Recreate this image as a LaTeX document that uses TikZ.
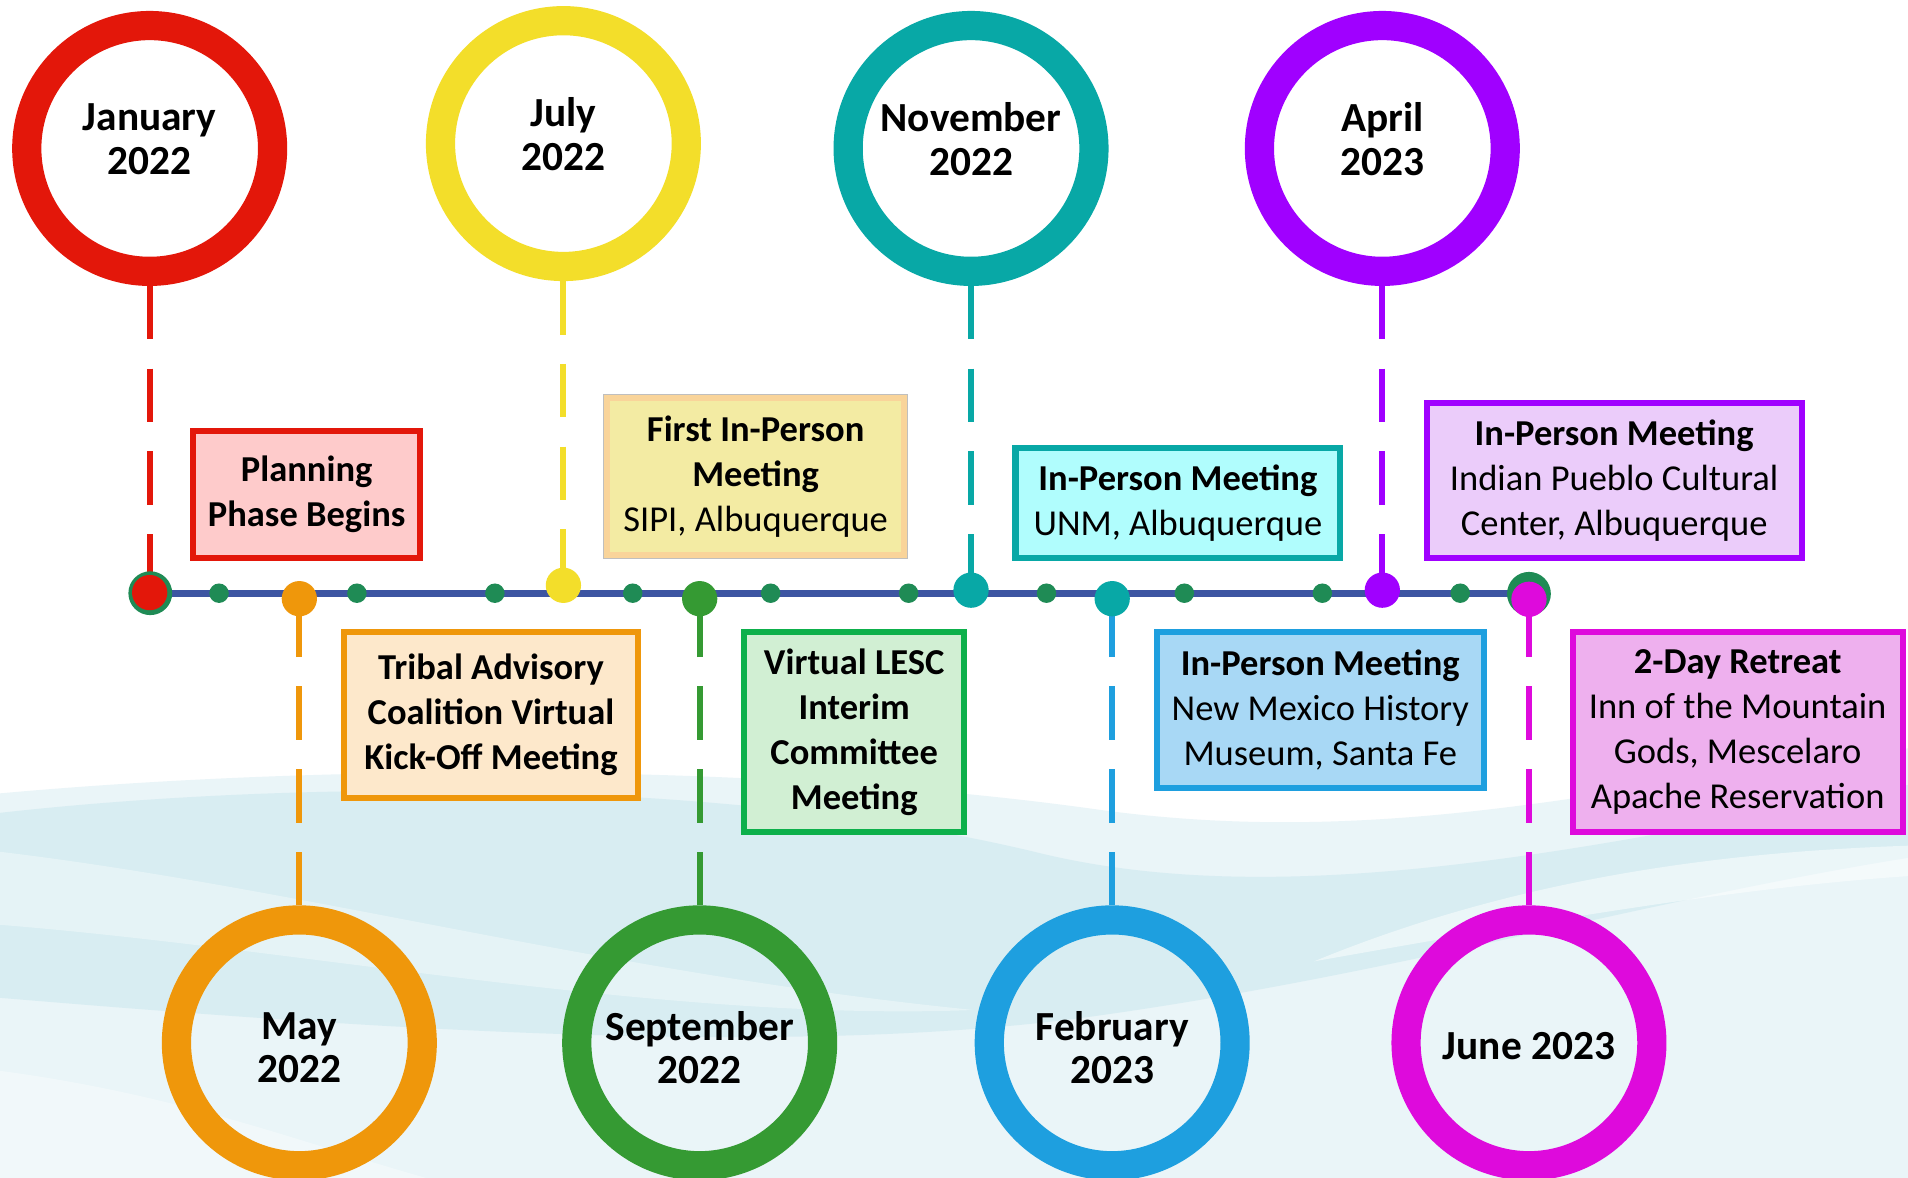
\documentclass[tikz,border=0pt]{standalone}
\usepackage{fontspec}
\setmainfont{Carlito}
\definecolor{cRed}{HTML}{E3170A}
\definecolor{cYel}{HTML}{F3DE2A}
\definecolor{cTeal}{HTML}{08A8A6}
\definecolor{cPur}{HTML}{A000FF}
\definecolor{cOra}{HTML}{EF970B}
\definecolor{cGrn}{HTML}{359A33}
\definecolor{cBlu}{HTML}{1E9FDF}
\definecolor{cMag}{HTML}{DE0ADC}
\definecolor{tlBlue}{HTML}{3D55A2}
\definecolor{dotGrn}{HTML}{1F8B55}
\definecolor{fPink}{HTML}{FECBCB}
\definecolor{fYel}{HTML}{F3EBA3}
\definecolor{bPeach}{HTML}{F9D49A}
\definecolor{fPeach}{HTML}{FDE8CB}
\definecolor{bGrn}{HTML}{0DB04B}
\definecolor{fGrn}{HTML}{D1EFD3}
\definecolor{fCyan}{HTML}{B0FDFD}
\definecolor{fBlu}{HTML}{A8D8F5}
\definecolor{fPur}{HTML}{EBCCFA}
\definecolor{fMag}{HTML}{EEB0EE}
\definecolor{bgPale}{HTML}{EAF5F8}
\definecolor{bgBand}{HTML}{D8EDF2}
\begin{document}
\begin{tikzpicture}[x=0.5pt,y=-0.5pt,
  ring/.style={circle, draw=#1, line width=12pt, minimum size=101pt, inner sep=0pt,
    align=center, font=\fontsize{17}{18}\selectfont\bfseries},
  ringtext/.style={inner sep=0pt, align=center, font=\fontsize{17}{18}\selectfont\bfseries},
  twoline/.style={text depth=8pt},
  conn/.style={draw=#1, line width=2.5pt, dash pattern=on 22pt off 12pt},
  sdot/.style={circle, fill=dotGrn, minimum size=8pt, inner sep=0pt},
  edot/.style={circle, fill=#1, minimum size=14.5pt, inner sep=0pt},
  evbox/.style={draw=#1, line width=2.5pt, inner sep=0pt, align=center,
    font=\fontsize{15}{18.5}\selectfont},
]
\useasboundingbox (0,0) rectangle (1568,968);
\begin{scope}
\clip (0,0) rectangle (1568,968);
\fill[white] (0,0) rectangle (1568,968);
% background waves
\fill[bgPale] (0,652) .. controls (300,625) and (650,630) .. (900,665)
  .. controls (1150,700) and (1350,640) .. (1568,615) -- (1568,968) -- (0,968) -- cycle;
\fill[bgBand] (0,668) .. controls (250,640) and (600,640) .. (850,700)
  .. controls (1050,750) and (1300,700) .. (1568,645) -- (1568,705)
  .. controls (1350,740) and (1150,800) .. (900,835)
  .. controls (650,870) and (300,845) .. (0,820) -- cycle;
\fill[white, opacity=0.35] (0,700) .. controls (250,730) and (500,800) .. (800,830)
  .. controls (550,840) and (250,780) .. (0,760) -- cycle;
\fill[white, opacity=0.5] (1080,790) .. controls (1250,720) and (1420,700) .. (1568,695)
  -- (1568,720) .. controls (1420,730) and (1250,760) .. (1080,790) -- cycle;
\fill[white, opacity=0.35] (0,880) .. controls (150,900) and (250,940) .. (350,968) -- (0,968) -- cycle;

% rings
\node[ring=cRed, twoline] (jan) at (123,122) {January\\2022};
\node[ring=cYel, twoline] (jul) at (463,118) {July\\2022};
\node[ring=cTeal, twoline] (nov) at (798,122) {November\\2022};
\node[ring=cPur, twoline] (apr) at (1136,122) {April\\2023};
\node[ring=cOra] (may) at (246,857) {};
\node[ring=cGrn] (sep) at (575,857) {};
\node[ring=cBlu] (feb) at (914,857) {};
\node[ring=cMag] (jun) at (1256.5,857) {};
\node[ringtext] (mayt) at (246,861) {May\\2022};
\node[ringtext] (sept) at (575,861) {September\\2022};
\node[ringtext] (febt) at (914,861) {February\\2023};
\node[ringtext] (junt) at (1256.5,860) {June 2023};

% event points
\coordinate (pjan) at (123,487);
\coordinate (pjul) at (463,481);
\coordinate (pnov) at (798,485);
\coordinate (papr) at (1136,485);
\coordinate (pmay) at (246,492);
\coordinate (psep) at (575,492);
\coordinate (pfeb) at (914,492);
\coordinate (pjun) at (1256.5,492.5);
\coordinate (tlstart) at (123,487.5);
\coordinate (tlend) at (1256.5,487.5);

% connectors
\draw[conn=cRed] (jan.south) -- (pjan);
\draw[conn=cYel] (jul.south) -- (pjul);
\draw[conn=cTeal] (nov.south) -- (pnov);
\draw[conn=cPur] (apr.south) -- (papr);
\draw[conn=cOra] (may.north) -- (pmay);
\draw[conn=cGrn] (sep.north) -- (psep);
\draw[conn=cBlu] (feb.north) -- (pfeb);
\draw[conn=cMag] (jun.north) -- (pjun);

% timeline
\draw[tlBlue, line width=3pt] (tlstart) -- (tlend);
\foreach \x [count=\n] in {180,293.3,406.7,520,633.3,746.7,860,973.3,1086.7,1200}
  \node[sdot] (sd\n) at (\x,487.5) {};

\node[edot=dotGrn, minimum size=18pt] (djanr) at (123.5,487.5) {};
\node[edot=cRed] (djan) at (pjan) {};
\node[edot=cYel] (djul) at (pjul) {};
\node[edot=cTeal] (dnov) at (pnov) {};
\node[edot=cPur] (dapr) at (papr) {};
\node[edot=cOra] (dmay) at (pmay) {};
\node[edot=cGrn] (dsep) at (psep) {};
\node[edot=cTeal] (dfeb) at (pfeb) {};
\node[edot=dotGrn, minimum size=18pt] (djunr) at (1256.5,488) {};
\node[edot=cMag] (djun) at (pjun) {};

% event boxes
\node[evbox=cRed, fill=fPink, minimum width=93.5pt, minimum height=52pt] (b1) at (252,406.5)
  {\bfseries Planning\\\bfseries Phase Begins};
\node[draw=black!25, line width=0.5pt, fill=bPeach, minimum width=125pt, minimum height=67.5pt] (b2o) at (621,391.5) {};
\node[evbox=bPeach, line width=1.5pt, fill=fYel, minimum width=121pt, minimum height=63.5pt] (b2) at (621,391.5)
  {\bfseries First In-Person\\\bfseries Meeting\\SIPI, Albuquerque};
\node[evbox=cOra, fill=fPeach, minimum width=121pt, minimum height=68pt] (b3) at (403.5,587.5)
  {\bfseries Tribal Advisory\\\bfseries Coalition Virtual\\\bfseries Kick-Off Meeting};
\node[evbox=bGrn, fill=fGrn, minimum width=90.5pt, minimum height=82pt] (b4) at (702,601.5)
  {\bfseries Virtual LESC\\\bfseries Interim\\\bfseries Committee\\\bfseries Meeting};
\node[evbox=cTeal, fill=fCyan, minimum width=133.5pt, minimum height=45pt] (b5) at (968,413.5)
  {\bfseries In-Person Meeting\\UNM, Albuquerque};
\node[evbox=cBlu, fill=fBlu, minimum width=134.5pt, minimum height=64pt] (b6) at (1085,583.5)
  {\bfseries In-Person Meeting\\New Mexico History\\Museum, Santa Fe};
\node[evbox=cPur, fill=fPur, minimum width=154pt, minimum height=63.5pt] (b7) at (1326.5,395)
  {\bfseries In-Person Meeting\\Indian Pueblo Cultural\\Center, Albuquerque};
\node[evbox=cMag, fill=fMag, minimum width=135.5pt, minimum height=82pt] (b8) at (1428,601.5)
  {\bfseries 2-Day Retreat\\Inn of the Mountain\\Gods, Mescelaro\\Apache Reservation};
\end{scope}
\end{tikzpicture}
\end{document}
